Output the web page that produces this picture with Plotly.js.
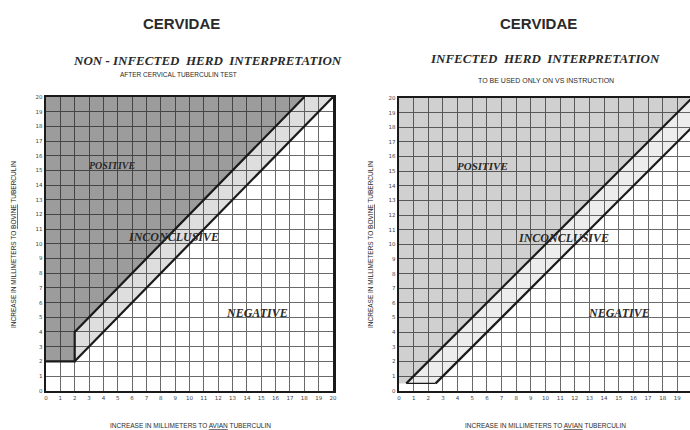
<!DOCTYPE html>
<html>
<head>
<meta charset="utf-8">
<script src="https://cdn.plot.ly/plotly-3.0.1.min.js"></script>
<style>html,body{margin:0;padding:0;background:#fff;}#chart{width:690px;height:430px;}</style>
</head>
<body>
<div id="chart"></div>
<script>
// ---- data ----
const tickValues = [0,1,2,3,4,5,6,7,8,9,10,11,12,13,14,15,16,17,18,19,20];
const tickLabels = ['0','1','2','3','4','5','6','7','8','9','10','11','12','13','14','15','16','17','18','19','20'];

// Non-infected herd (left chart)
const leftPositiveX = [0, 2, 2, 18, 0];
const leftPositiveY = [2, 2, 4, 20, 20];
const leftInconclusiveX = [2, 20, 18, 2];
const leftInconclusiveY = [2, 20, 20, 4];
const leftUpperX = [0, 2, 2, 18];
const leftUpperY = [2, 2, 4, 20];
const leftLowerX = [2, 20];
const leftLowerY = [2, 20];

// Infected herd (right chart)
const rightPositiveX = [0, 0.5, 20, 0];
const rightPositiveY = [0.5, 0.5, 20, 20];
const rightInconclusiveX = [0.5, 2.5, 20, 20];
const rightInconclusiveY = [0.5, 0.5, 18, 20];
const rightUpperX = [0.5, 20];
const rightUpperY = [0.5, 20];
const rightLowerX = [2.5, 20];
const rightLowerY = [0.5, 18];
const rightBaseX = [0.5, 2.5];
const rightBaseY = [0.5, 0.5];

const regionLabels = ['POSITIVE', 'INCONCLUSIVE', 'NEGATIVE'];

// ---- traces ----
function fillTrace(x, y, color, xa, ya) {
  return {x: x, y: y, xaxis: xa, yaxis: ya, type: 'scatter', mode: 'lines', fill: 'toself',
          fillcolor: color, line: {width: 0}, hoverinfo: 'skip', showlegend: false};
}
function lineTrace(x, y, w, xa, ya) {
  return {x: x, y: y, xaxis: xa, yaxis: ya, type: 'scatter', mode: 'lines',
          line: {color: '#1a1a1a', width: w}, hoverinfo: 'skip', showlegend: false};
}

const traces = [
  fillTrace(leftPositiveX, leftPositiveY, 'rgba(20,20,20,0.42)', 'x', 'y'),
  fillTrace(leftInconclusiveX, leftInconclusiveY, 'rgba(20,20,20,0.14)', 'x', 'y'),
  lineTrace(leftUpperX, leftUpperY, 2.2, 'x', 'y'),
  lineTrace(leftLowerX, leftLowerY, 2.2, 'x', 'y'),
  fillTrace(rightPositiveX, rightPositiveY, 'rgba(20,20,20,0.2)', 'x2', 'y2'),
  fillTrace(rightInconclusiveX, rightInconclusiveY, 'rgba(20,20,20,0.08)', 'x2', 'y2'),
  lineTrace(rightUpperX, rightUpperY, 2.2, 'x2', 'y2'),
  lineTrace(rightLowerX, rightLowerY, 2.2, 'x2', 'y2'),
  lineTrace(rightBaseX, rightBaseY, 1.2, 'x2', 'y2')
];

function axis(domain, range, anchor, mirror) {
  return {domain: domain, range: range, anchor: anchor, tickmode: 'array',
          tickvals: tickValues, ticktext: tickLabels, showgrid: true,
          gridcolor: '#6a6a6a', gridwidth: 1, zeroline: false, showline: true,
          linecolor: '#1a1a1a', linewidth: 2.5, mirror: mirror, ticks: '',
          ticklen: 0, tickfont: {family: 'DejaVu Sans', size: 5.5, color: '#444'}, fixedrange: true};
}

const serif = 'Liberation Serif';
const sans = 'Liberation Sans';
function ann(text, x, y, size, family, opts) {
  return Object.assign({text: text, x: x, y: y, xref: 'paper', yref: 'paper',
    xanchor: 'center', yanchor: 'middle', showarrow: false,
    font: {family: family, size: size, color: '#2a2a2a'}}, opts || {});
}
const W = 690, H = 430;
function px(x) { return x / W; }
function py(y) { return 1 - y / H; }

const annotations = [
  ann('<b>CERVIDAE</b>', px(181), py(23), 15, sans),
  ann('<b>CERVIDAE</b>', px(538), py(23), 15, sans),
  ann('<b><i>NON - INFECTED  HERD  INTERPRETATION</i></b>', px(207), py(60), 13, serif),
  ann('<b><i>INFECTED  HERD  INTERPRETATION</i></b>', px(545), py(58), 13, serif),
  ann('AFTER CERVICAL TUBERCULIN TEST', px(178), py(75), 6.5, sans),
  ann('TO BE USED ONLY ON VS INSTRUCTION', px(546), py(80), 7, sans),
  ann('INCREASE IN MILLIMETERS TO <u>AVIAN</u> TUBERCULIN', px(190), py(425), 6.5, sans),
  ann('INCREASE IN MILLIMETERS TO <u>AVIAN</u> TUBERCULIN', px(545), py(425), 6.5, sans),
  ann('INCREASE IN MILLIMETERS TO <u>BOVINE</u> TUBERCULIN', px(13), py(245), 6.5, sans, {textangle: -90}),
  ann('INCREASE IN MILLIMETERS TO <u>BOVINE</u> TUBERCULIN', px(370), py(245), 6.5, sans, {textangle: -90}),
  ann('<b><i>' + regionLabels[0] + '</i></b>', px(112), py(165), 10, serif),
  ann('<b><i>' + regionLabels[1] + '</i></b>', px(173), py(237), 12, serif),
  ann('<b><i>' + regionLabels[2] + '</i></b>', px(257), py(313), 12, serif),
  ann('<b><i>' + regionLabels[0] + '</i></b>', px(482), py(166), 11, serif),
  ann('<b><i>' + regionLabels[1] + '</i></b>', px(563), py(238), 12, serif),
  ann('<b><i>' + regionLabels[2] + '</i></b>', px(619), py(313), 12, serif)
];

const layout = {
  width: W, height: H,
  margin: {l: 0, r: 0, t: 0, b: 0},
  paper_bgcolor: '#fff', plot_bgcolor: 'rgba(0,0,0,0)',
  showlegend: false,
  xaxis: axis([px(46), px(333)], [0, 20], 'y', true),
  yaxis: axis([py(390.7), py(97)], [0, 20], 'x', true),
  xaxis2: axis([px(399), 1], [0, (690 - 399) / 14.65], 'y2', true),
  yaxis2: axis([py(390.7), py(98)], [0, 20], 'x2', false),
  annotations: annotations
};

Plotly.newPlot('chart', traces, layout, {displayModeBar: false, staticPlot: true});
</script>
</body>
</html>
